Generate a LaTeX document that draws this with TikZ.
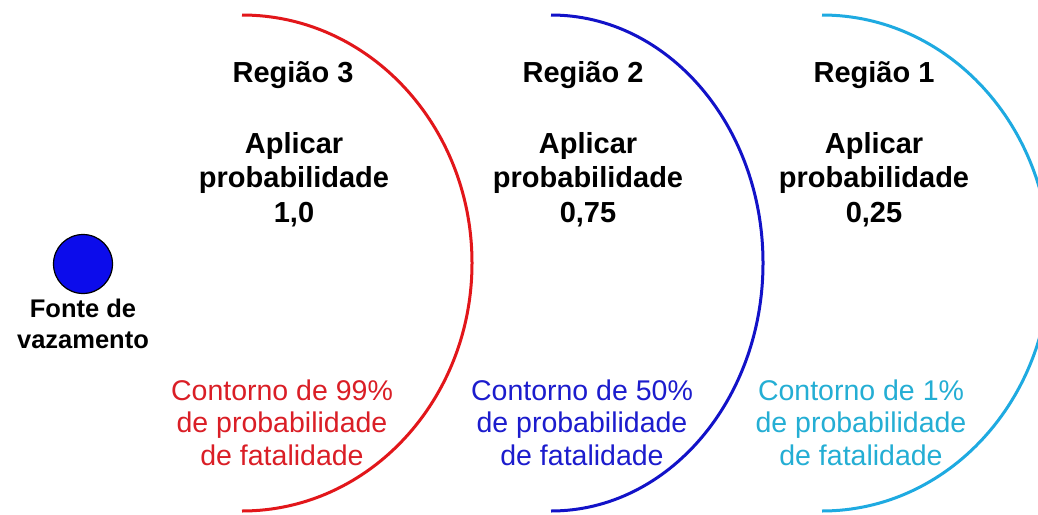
\documentclass[tikz,border=0pt]{standalone}
\usepackage{fontspec}
\setmainfont{Liberation Sans}
\definecolor{arcred}{RGB}{226,22,26}
\definecolor{txtred}{RGB}{218,30,38}
\definecolor{arcblue}{RGB}{18,18,200}
\definecolor{txtblue}{RGB}{28,28,205}
\definecolor{arccyan}{RGB}{30,170,225}
\definecolor{txtcyan}{RGB}{36,174,212}
\definecolor{dotblue}{RGB}{12,12,235}
\begin{document}
\begin{tikzpicture}[x=1pt,y=-1pt,
  contour/.style={line width=3pt},
  regionlab/.style={font=\fontsize{29}{34.5}\selectfont\bfseries, inner sep=0pt, anchor=base, align=center},
  contourlab/.style={font=\fontsize{28.5}{32.5}\selectfont, inner sep=0pt, anchor=base, align=center},
  sourcelab/.style={font=\fontsize{25.5}{31}\selectfont\bfseries, inner sep=0pt, anchor=base, align=center}]
\useasboundingbox (0,0) rectangle (1038,514);
\fill[white] (0,0) rectangle (1038,514);
\begin{scope}
\clip (0,0) rectangle (1038,514);
\draw[contour, arcred]  (242,15) arc[start angle=-90, end angle=90, x radius=230, y radius=248];
\draw[contour, arcblue] (551,15) arc[start angle=-90, end angle=90, x radius=212, y radius=248];
\draw[contour, arccyan] (822,15) arc[start angle=-90, end angle=90, x radius=228, y radius=248];
\end{scope}
% leak source (base anchor of a multi-line node = last line)
\node[circle, draw=black, line width=1.2pt, fill=dotblue, minimum size=59pt, inner sep=0pt] (src) at (83,264) {};
\node[sourcelab] (srclab) at (83,348) {Fonte de\\vazamento};
% region titles
\node[regionlab] (reg3) at (293,82) {Região 3};
\node[regionlab] (reg2) at (583,82) {Região 2};
\node[regionlab] (reg1) at (874,82) {Região 1};
% probabilities
\node[regionlab] (prob3) at (294,222) {Aplicar\\probabilidade\\1,0};
\node[regionlab] (prob2) at (588,222) {Aplicar\\probabilidade\\0,75};
\node[regionlab] (prob1) at (874,222) {Aplicar\\probabilidade\\0,25};
% contour labels
\node[contourlab, text=txtred]  (c99) at (282,465) {Contorno de 99\%\\de probabilidade\\de fatalidade};
\node[contourlab, text=txtblue] (c50) at (582,465) {Contorno de 50\%\\de probabilidade\\de fatalidade};
\node[contourlab, text=txtcyan] (c1)  at (861,465) {Contorno de 1\%\\de probabilidade\\de fatalidade};
\end{tikzpicture}
\end{document}
